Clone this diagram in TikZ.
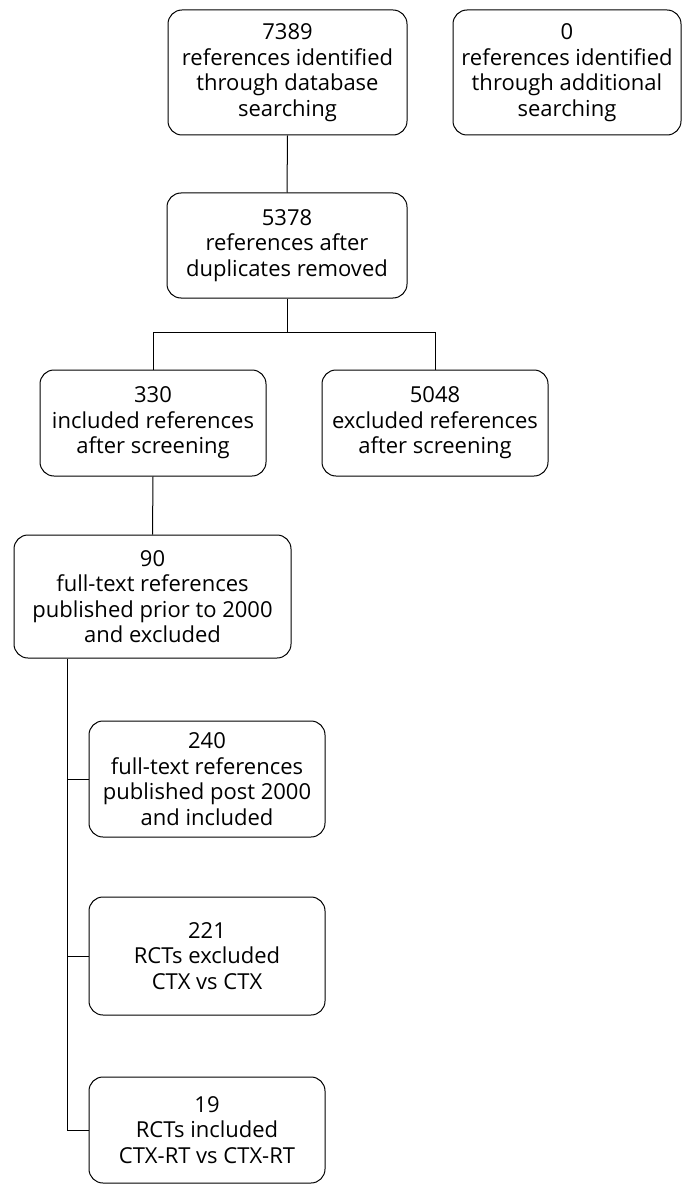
\documentclass[tikz,border=0pt]{standalone}
\usepackage{fontspec}
\setmainfont{Open Sans}
\begin{document}
\begin{tikzpicture}[x=1pt,y=-1pt,
  box/.style={draw, rounded corners=14pt, line width=1pt, align=center,
    inner sep=0pt, font=\fontsize{22}{25.5}\selectfont},
  link/.style={line width=1pt}]
\useasboundingbox (0,0) rectangle (683,1185);
% top row
\node[box, minimum width=239pt, minimum height=125pt] (db) at (287.5,72.5)
  {7389\\references identified\\through database\\searching};
\node[box, minimum width=228pt, minimum height=125pt] (add) at (567,72.5)
  {0\\references identified\\through additional\\searching};
% deduplication
\node[box, minimum width=240pt, minimum height=105pt] (dup) at (287,245.5)
  {5378\\references after\\duplicates removed};
% screening
\node[box, minimum width=226pt, minimum height=106pt] (inc) at (153,423)
  {330\\included references\\after screening};
\node[box, minimum width=226pt, minimum height=106pt] (exc) at (435,423)
  {5048\\excluded references\\after screening};
% full text
\node[box, minimum width=277pt, minimum height=123pt] (prior) at (152.5,596.5)
  {90\\full-text references\\published prior to 2000\\and excluded};
\node[box, minimum width=236pt, minimum height=116pt] (post) at (207,779)
  {240\\full-text references\\published post 2000\\and included};
\node[box, minimum width=236pt, minimum height=118pt] (rctx) at (207,956)
  {221\\RCTs excluded\\CTX vs CTX};
\node[box, minimum width=236pt, minimum height=106pt] (rcti) at (207,1130)
  {19\\RCTs included\\CTX-RT vs CTX-RT};
% connectors
\coordinate (split) at (287,332);
\coordinate (trunk) at (67,0);
\draw[link] (db.south) -- (dup.north);
\draw[link] (dup.south) -- (split);
\draw[link] (inc.north) -- (inc.north |- split) -| (exc.north);
\draw[link] (inc.south) -- (prior.north);
\draw[link] (trunk |- prior.south) -- (trunk |- rcti.west) -- (rcti.west);
\draw[link] (trunk |- post.west) -- (post.west);
\draw[link] (trunk |- rctx.west) -- (rctx.west);
\end{tikzpicture}
\end{document}
